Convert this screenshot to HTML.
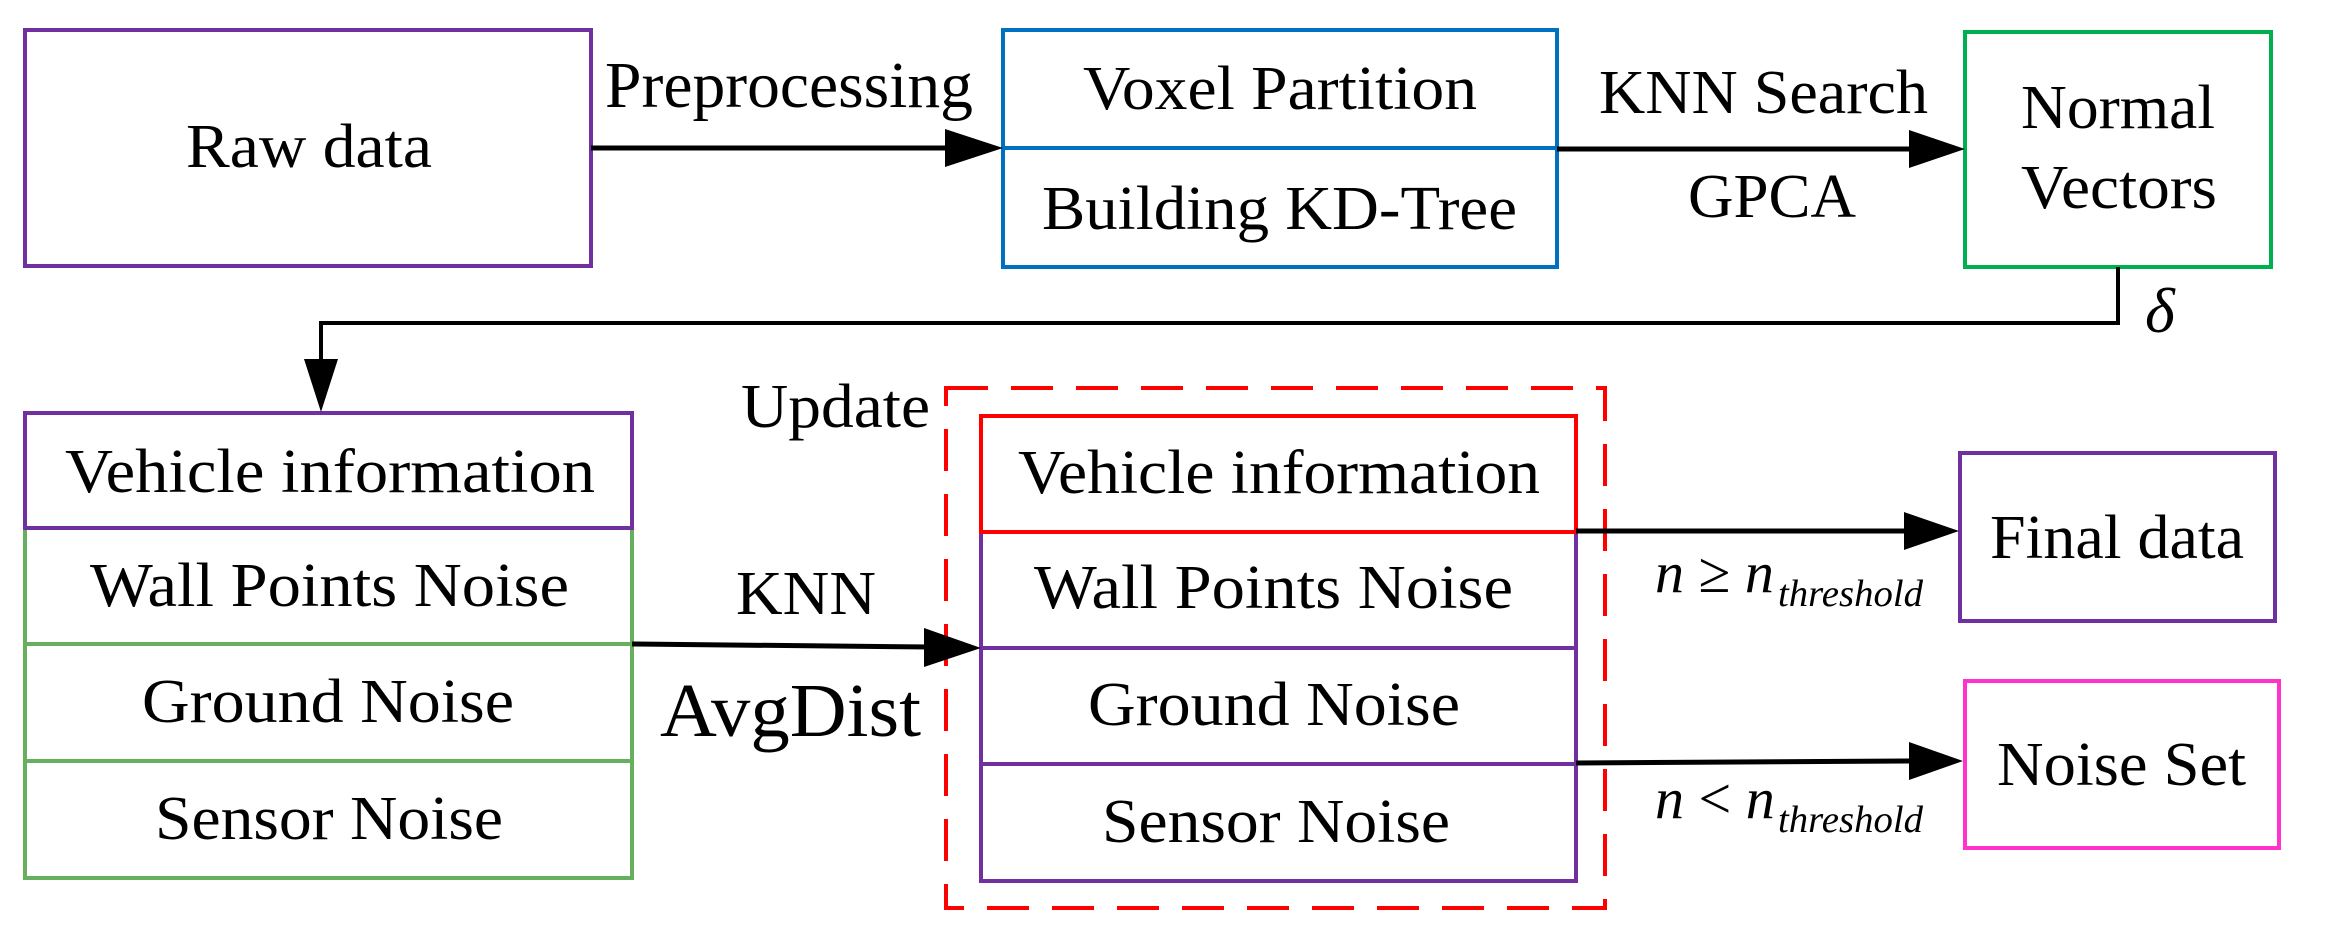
<!DOCTYPE html>
<html><head><meta charset="utf-8"><style>html,body{margin:0;padding:0;background:#fff}svg{display:block}</style></head>
<body>
<svg width="2331" height="939" viewBox="0 0 2331 939" xmlns="http://www.w3.org/2000/svg" font-family="Liberation Serif, serif" font-size="62">
<rect width="2331" height="939" fill="#fff"/>
<g stroke-width="4" fill="none">
<rect x="25" y="30" width="566" height="236" stroke="#7030A0"/>
<rect x="1003" y="30" width="554" height="237" stroke="#0070C0"/>
<line x1="1003" y1="148" x2="1557" y2="148" stroke="#0070C0"/>
<rect x="1965" y="32" width="306" height="235" stroke="#00B050"/>
<rect x="25" y="413" width="607" height="465" stroke="#66AF5E"/>
<line x1="25" y1="644" x2="632" y2="644" stroke="#66AF5E"/>
<line x1="25" y1="761" x2="632" y2="761" stroke="#66AF5E"/>
<path d="M25,528 L25,413 L632,413 L632,528 Z" stroke="#7030A0"/>
<rect x="946" y="388" width="659" height="520" stroke="#FF0000" stroke-dasharray="42 23"/>
<rect x="981" y="416" width="595" height="465" stroke="#7030A0"/>
<line x1="981" y1="648" x2="1576" y2="648" stroke="#7030A0"/>
<line x1="981" y1="764" x2="1576" y2="764" stroke="#7030A0"/>
<path d="M981,532 L981,416 L1576,416 L1576,532 Z" stroke="#FF0000"/>
<rect x="1960" y="453" width="315" height="168" stroke="#7030A0"/>
<rect x="1965" y="681" width="314" height="167" stroke="#FF33CC"/>
</g>
<g stroke="#000" fill="none">
<line x1="591" y1="148" x2="950" y2="148" stroke-width="5"/>
<line x1="1557" y1="149" x2="1912" y2="149" stroke-width="5"/>
<polyline points="2118,267 2118,323 321,323 321,365" stroke-width="4"/>
<line x1="632" y1="644" x2="930" y2="647" stroke-width="5"/>
<line x1="1576" y1="531" x2="1908" y2="531" stroke-width="5"/>
<line x1="1576" y1="763" x2="1912" y2="761" stroke-width="5"/>
</g>
<g fill="#000">
<polygon points="945,129 1003,148 945,167"/>
<polygon points="1909,130 1965,149 1909,168"/>
<polygon points="304,359 338,359 321,412"/>
<polygon points="924,628 981,648 924,667"/>
<polygon points="1904,512 1959,531 1904,550"/>
<polygon points="1909,742 1963,761 1909,780"/>
</g>
<g fill="#000">
<text x="186" y="167" textLength="246" lengthAdjust="spacingAndGlyphs">Raw data</text>
<text x="605" y="107" font-size="66" textLength="368" lengthAdjust="spacingAndGlyphs">Preprocessing</text>
<text x="1083" y="109" textLength="394" lengthAdjust="spacingAndGlyphs">Voxel Partition</text>
<text x="1042" y="229" textLength="475" lengthAdjust="spacingAndGlyphs">Building KD-Tree</text>
<text x="1599" y="113" textLength="329" lengthAdjust="spacingAndGlyphs">KNN Search</text>
<text x="1688" y="217" textLength="168" lengthAdjust="spacingAndGlyphs">GPCA</text>
<text x="2021" y="128" textLength="194" lengthAdjust="spacingAndGlyphs">Normal</text>
<text x="2021" y="208" textLength="196" lengthAdjust="spacingAndGlyphs">Vectors</text>
<text x="2145" y="332" font-style="italic" font-size="64">δ</text>
<text x="741" y="427" textLength="189" lengthAdjust="spacingAndGlyphs">Update</text>
<text x="65" y="492" textLength="530" lengthAdjust="spacingAndGlyphs">Vehicle information</text>
<text x="90" y="606" textLength="479" lengthAdjust="spacingAndGlyphs">Wall Points Noise</text>
<text x="142" y="722" textLength="372" lengthAdjust="spacingAndGlyphs">Ground Noise</text>
<text x="155" y="839" textLength="348" lengthAdjust="spacingAndGlyphs">Sensor Noise</text>
<text x="736" y="614" textLength="140" lengthAdjust="spacingAndGlyphs">KNN</text>
<text x="660" y="736" font-size="76" textLength="261" lengthAdjust="spacingAndGlyphs">AvgDist</text>
<text x="1018" y="493" textLength="522" lengthAdjust="spacingAndGlyphs">Vehicle information</text>
<text x="1034" y="608" textLength="479" lengthAdjust="spacingAndGlyphs">Wall Points Noise</text>
<text x="1088" y="725" textLength="372" lengthAdjust="spacingAndGlyphs">Ground Noise</text>
<text x="1102" y="842" textLength="348" lengthAdjust="spacingAndGlyphs">Sensor Noise</text>
<text x="1990" y="558" textLength="254" lengthAdjust="spacingAndGlyphs">Final data</text>
<text x="1997" y="785" textLength="249" lengthAdjust="spacingAndGlyphs">Noise Set</text>
<text x="1655" y="592" font-size="58"><tspan font-style="italic">n</tspan> ≥ <tspan font-style="italic">n</tspan></text>
<text x="1778" y="606" font-size="38" font-style="italic" textLength="145" lengthAdjust="spacingAndGlyphs">threshold</text>
<text x="1655" y="818" font-size="58"><tspan font-style="italic">n</tspan> &lt; <tspan font-style="italic">n</tspan></text>
<text x="1778" y="832" font-size="38" font-style="italic" textLength="145" lengthAdjust="spacingAndGlyphs">threshold</text>
</g>
</svg>
</body></html>
